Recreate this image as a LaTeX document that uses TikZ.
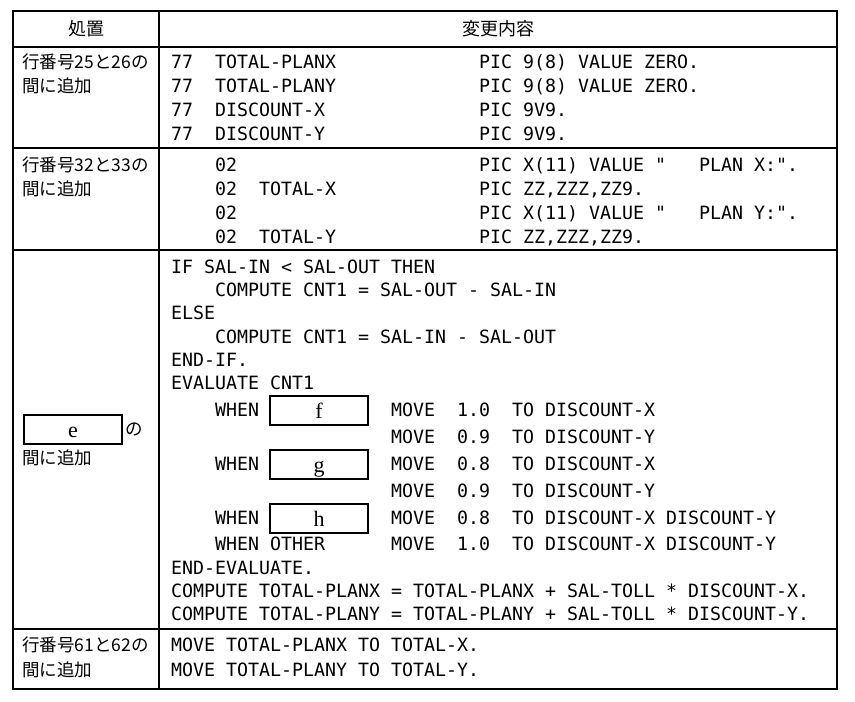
\documentclass[tikz,border=0pt]{standalone}
\usepackage{fontspec}
\newfontfamily\jpfont{Noto Sans CJK JP}
\newfontfamily\codefont{DejaVu Sans Mono}
\newfontfamily\serfont{Liberation Serif}
\tikzset{
  rule/.style={line width=1.3pt, draw=black},
  code/.style={anchor=base west, inner sep=0pt, font=\codefont\fontsize{18.27}{20}\selectfont\frenchspacing},
  jp/.style={anchor=base west, inner sep=0pt, font=\jpfont\fontsize{17.5}{20}\selectfont},
  head/.style={anchor=base, inner sep=0pt, font=\jpfont\fontsize{18}{20}\selectfont},
  blank/.style={draw=black, line width=2pt, inner xsep=0pt, inner ysep=6pt,
    minimum width=98pt, minimum height=29pt, text height=16pt, text depth=1pt,
    font=\serfont\fontsize{22}{22}\selectfont, anchor=north west}
}
\begin{document}
\begin{tikzpicture}[x=1pt, y=-1pt]
\useasboundingbox (0,0) rectangle (855,702);
% table frame
\coordinate (tl) at (13,11);
\coordinate (br) at (837,689);
\draw[rule] (tl) rectangle (br);
\draw[rule] (159,11) -- (159,689);
\draw[rule] (13,47) -- (837,47);
\draw[rule] (13,148) -- (837,148);
\draw[rule] (13,250) -- (837,250);
\draw[rule] (13,629) -- (837,629);
% header
\node[head] (h1) at (86,35.5) {処置};
\node[head] (h2) at (498,35.5) {変更内容};
% row 1
\node[jp] (l1a) at (22,68.6) {行番号25と26の};
\node[jp] (l1b) at (22,92.6) {間に追加};
\node[code] (r1a) at (171,68.6) {77~~TOTAL-PLANX};
\node[code] (r1b) at (171,92.6) {77~~TOTAL-PLANY};
\node[code] (r1c) at (171,116.6) {77~~DISCOUNT-X};
\node[code] (r1d) at (171,140.6) {77~~DISCOUNT-Y};
\node[code] (p1a) at (479,68.6) {PIC 9(8) VALUE ZERO.};
\node[code] (p1b) at (479,92.6) {PIC 9(8) VALUE ZERO.};
\node[code] (p1c) at (479,116.6) {PIC 9V9.};
\node[code] (p1d) at (479,140.6) {PIC 9V9.};
% row 2
\node[jp] (l2a) at (22,171.6) {行番号32と33の};
\node[jp] (l2b) at (22,195.6) {間に追加};
\node[code] (r2a) at (215,171.6) {02};
\node[code] (r2b) at (215,195.6) {02~~TOTAL-X};
\node[code] (r2c) at (215,219.6) {02};
\node[code] (r2d) at (215,243.6) {02~~TOTAL-Y};
\node[code] (p2a) at (479,171.6) {PIC X(11) VALUE "~~~PLAN X:".};
\node[code] (p2b) at (479,195.6) {PIC ZZ,ZZZ,ZZ9.};
\node[code] (p2c) at (479,219.6) {PIC X(11) VALUE "~~~PLAN Y:".};
\node[code] (p2d) at (479,243.6) {PIC ZZ,ZZZ,ZZ9.};
% row 3 left
\node[blank] (e) at (23,414) {e};
\node[jp] (eno) at (125,435.6) {の};
\node[jp] (l3b) at (22,464) {間に追加};
% row 3 code
\node[code] (c1) at (171,273.6) {IF SAL-IN < SAL-OUT THEN};
\node[code] (c2) at (215,296.6) {COMPUTE CNT1 = SAL-OUT - SAL-IN};
\node[code] (c3) at (171,319.6) {ELSE};
\node[code] (c4) at (215,343.6) {COMPUTE CNT1 = SAL-IN - SAL-OUT};
\node[code] (c5) at (171,366.6) {END-IF.};
\node[code] (c6) at (171,389.6) {EVALUATE CNT1};
\node[code] (w1) at (215,416.6) {WHEN};
\node[blank] (f) at (269,395) {f};
\node[code] (m1) at (391,416.6) {MOVE~~1.0~~TO DISCOUNT-X};
\node[code] (m2) at (391,443.6) {MOVE~~0.9~~TO DISCOUNT-Y};
\node[code] (w2) at (215,470.6) {WHEN};
\node[blank] (g) at (269,449) {g};
\node[code] (m3) at (391,470.6) {MOVE~~0.8~~TO DISCOUNT-X};
\node[code] (m4) at (391,497.6) {MOVE~~0.9~~TO DISCOUNT-Y};
\node[code] (w3) at (215,524.6) {WHEN};
\node[blank] (h) at (269,503) {h};
\node[code] (m5) at (391,524.6) {MOVE~~0.8~~TO DISCOUNT-X DISCOUNT-Y};
\node[code] (w4) at (215,550.6) {WHEN OTHER};
\node[code] (m6) at (391,550.6) {MOVE~~1.0~~TO DISCOUNT-X DISCOUNT-Y};
\node[code] (c7) at (171,574.6) {END-EVALUATE.};
\node[code] (c8) at (171,597.6) {COMPUTE TOTAL-PLANX = TOTAL-PLANX + SAL-TOLL * DISCOUNT-X.};
\node[code] (c9) at (171,620.6) {COMPUTE TOTAL-PLANY = TOTAL-PLANY + SAL-TOLL * DISCOUNT-Y.};
% row 4
\node[jp] (l4a) at (22,651.6) {行番号61と62の};
\node[jp] (l4b) at (22,676.6) {間に追加};
\node[code] (r4a) at (171,651.6) {MOVE TOTAL-PLANX TO TOTAL-X.};
\node[code] (r4b) at (171,676.6) {MOVE TOTAL-PLANY TO TOTAL-Y.};
\end{tikzpicture}
\end{document}
